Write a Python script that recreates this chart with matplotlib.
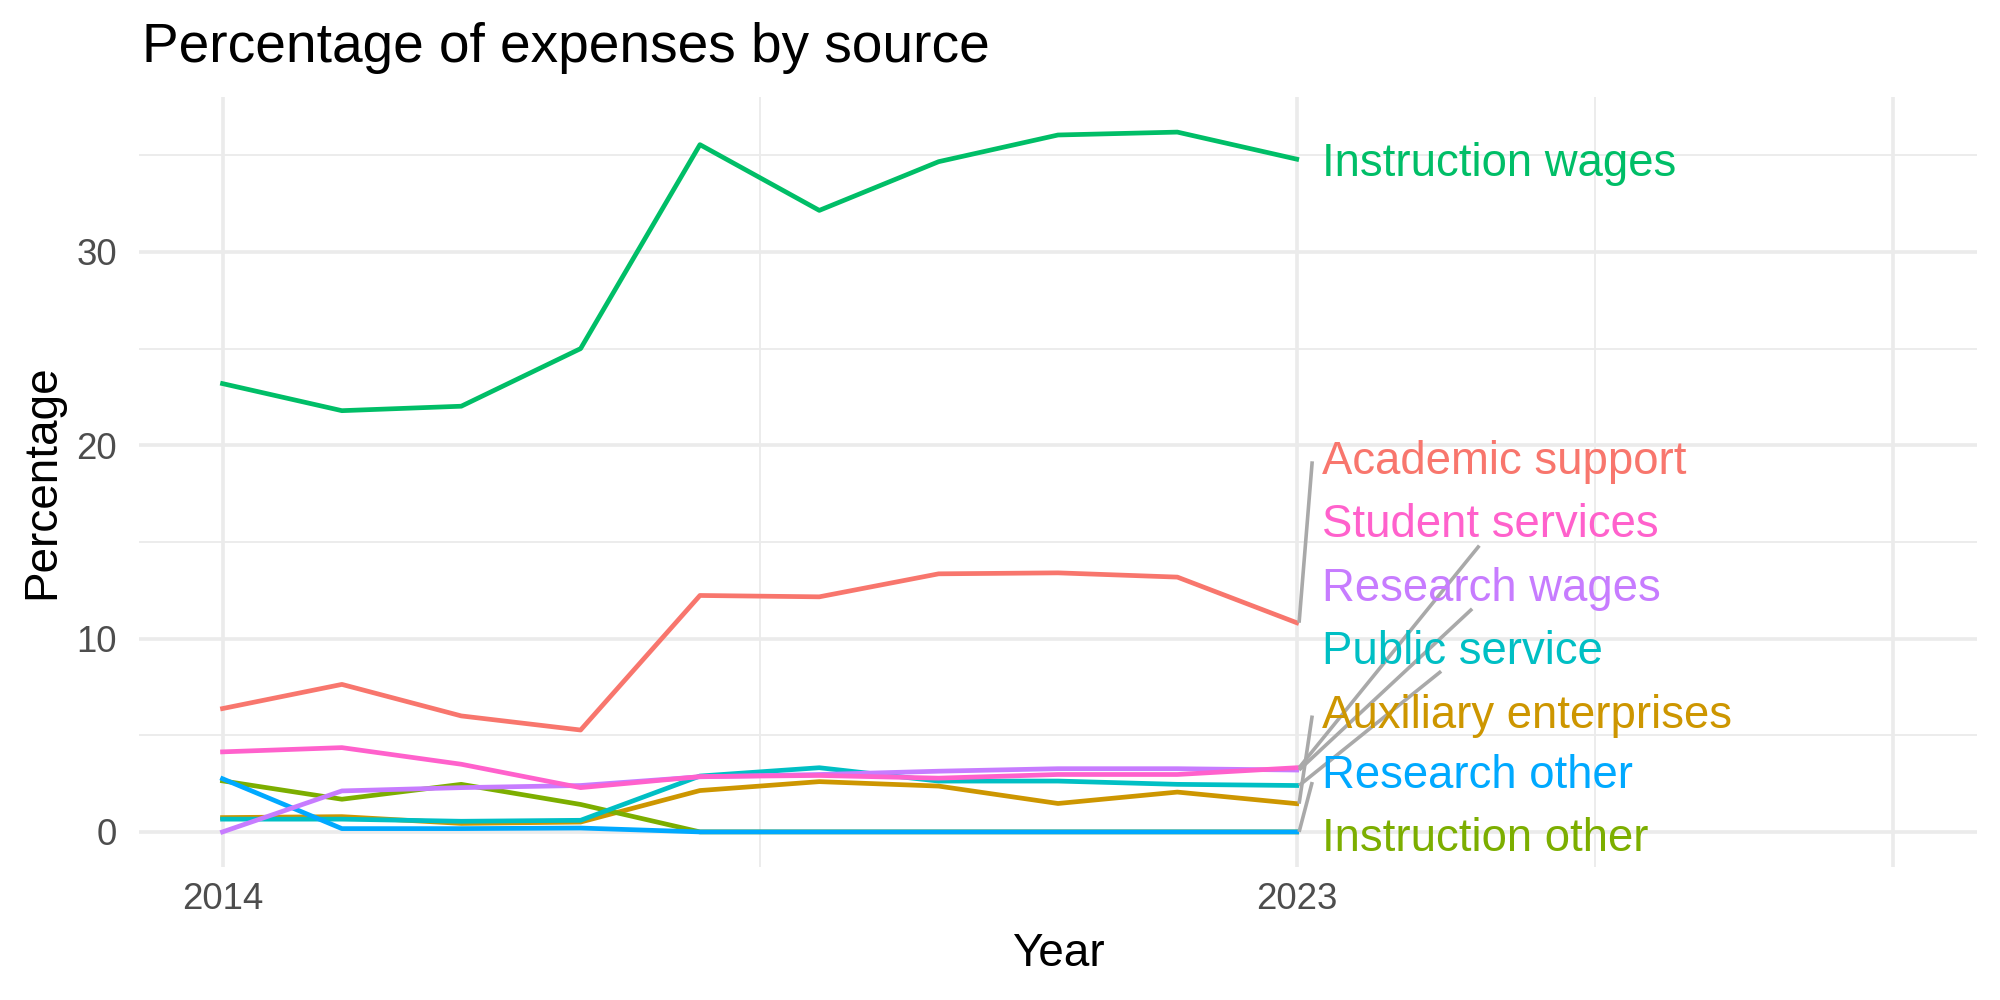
import matplotlib
matplotlib.use("Agg")
import matplotlib.pyplot as plt
import numpy as np
from matplotlib.ticker import FixedLocator

plt.rcParams['font.family'] = ['Liberation Sans', 'DejaVu Sans']

years = np.arange(2014, 2024)

# values (percent)
academic_support = [6.38, 7.63, 6.0, 5.27, 12.23, 12.16, 13.35, 13.4, 13.18, 10.82]
auxiliary_enterprises = [0.74, 0.79, 0.44, 0.51, 2.14, 2.6, 2.37, 1.47, 2.06, 1.46]
instruction_other = [2.64, 1.69, 2.46, 1.42, 0, 0, 0, 0, 0, 0]
instruction_wages = [23.19, 21.79, 22.02, 25.0, 35.55, 32.15, 34.67, 36.05, 36.2, 34.8]
public_service = [0.66, 0.66, 0.55, 0.6, 2.89, 3.32, 2.63, 2.63, 2.46, 2.4]
research_other = [2.75, 0.17, 0.17, 0.2, 0, 0, 0, 0, 0, 0]
research_wages = [0.0, 2.12, 2.29, 2.4, 2.85, 2.97, 3.14, 3.27, 3.27, 3.2]
student_services = [4.14, 4.36, 3.5, 2.29, 2.86, 2.92, 2.78, 2.97, 2.97, 3.32]

names = ["Academic support", "Auxiliary enterprises", "Instruction other",
         "Instruction wages", "Public service", "Research other",
         "Research wages", "Student services"]
series = [academic_support, auxiliary_enterprises, instruction_other,
          instruction_wages, public_service, research_other,
          research_wages, student_services]
colors = ["#F8766D", "#CD9600", "#7CAE00", "#00BE67",
          "#00BFC4", "#00A9FF", "#C77CFF", "#FF61CC"]

# where the repelled labels ended up (baseline y) and where their leader lines end
label_x = 2023.21
label_y = [18.51, 5.38, -0.99, 33.94, 8.66, 2.25, 11.93, 15.26]
seg_end = [(2023.13, 19.17), (2023.13, 6.02), None, None,
           (2024.21, 8.31), (2023.13, 2.58), (2024.47, 11.54), (2024.53, 14.81)]

fig = plt.figure(figsize=(10, 5), dpi=200)
ax = fig.add_axes([0.0695, 0.1333, 0.919, 0.7694])

for name, vals, col in zip(names, series, colors):
    ax.plot(years, vals, color=col, lw=1.7, solid_joinstyle='round', zorder=3)

for name, vals, col, ly, se in zip(names, series, colors, label_y, seg_end):
    if se is not None:
        ax.plot([years[-1] + 0.02, se[0]], [vals[-1], se[1]], color="#A9A9A9",
                lw=1.3, zorder=4, solid_capstyle='butt')
    ax.text(label_x, ly, name, color=col, fontsize=16.4, ha='left',
            va='baseline', zorder=5)

ax.set_xlim(2013.3, 2028.7)
ax.set_ylim(-1.8, 38.0)

ax.xaxis.set_major_locator(FixedLocator([2014, 2023, 2028]))
ax.set_xticklabels(["2014", "2023", ""])
ax.xaxis.set_minor_locator(FixedLocator([2018.5, 2025.5]))
ax.yaxis.set_major_locator(FixedLocator([0, 10, 20, 30]))
ax.yaxis.set_minor_locator(FixedLocator([5, 15, 25, 35]))

ax.grid(True, which='major', color="#EBEBEB", lw=1.3, zorder=0)
ax.grid(True, which='minor', color="#EBEBEB", lw=0.65, zorder=0)
ax.set_axisbelow(True)
for sp in ax.spines.values():
    sp.set_visible(False)
ax.tick_params(which='both', length=0, labelsize=13.2, labelcolor="#4D4D4D")
ax.tick_params(axis='x', pad=5.4)
ax.tick_params(axis='y', pad=7.9)

ax.set_xlabel("Year", fontsize=16.5, va='center')
ax.set_ylabel("Percentage", fontsize=16.5, va='center')
ax.xaxis.set_label_coords(0.5, -0.114)
ax.yaxis.set_label_coords(-0.0525, 0.5)

fig.text(0.0708, 0.938, "Percentage of expenses by source", fontsize=19.8,
         ha='left', va='baseline')

fig.savefig("out.png", dpi=200, facecolor="white")
